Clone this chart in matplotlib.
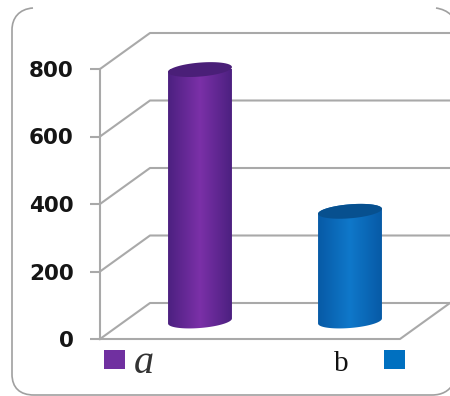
import numpy as np
import matplotlib
matplotlib.use("Agg")
import matplotlib.pyplot as plt
from matplotlib.colors import LinearSegmentedColormap
from matplotlib.patches import PathPatch, Polygon, Rectangle
from matplotlib.path import Path

categories = ["a", "b"]
values = [745, 325]
ticks = [0, 200, 400, 600, 800]

# edge, centre, lid
purple = ["#4c2080", "#7b30a8", "#4a1f78"]
blue = ["#075aa6", "#0f78ca", "#07508f"]
bar_colors = [purple, blue]
legend_colors = ["#7030a0", "#0070c0"]
GRID = "#a9a9a9"

W, H = 450, 396
fig = plt.figure(figsize=(W / 100, H / 100), dpi=100)

# background layer in pixel units for the frame, which has no visible top edge
bg = fig.add_axes([0, 0, 1, 1])
bg.set_xlim(0, W)
bg.set_ylim(H, 0)
bg.axis("off")
frame = Path(
    [(33, 8), (19, 9), (12, 18), (12, 30), (12, 374), (12, 388), (20, 395), (34, 395),
     (432, 395), (442, 395), (449, 391), (453, 384)],
    [Path.MOVETO, Path.CURVE4, Path.CURVE4, Path.CURVE4, Path.LINETO, Path.CURVE4, Path.CURVE4,
     Path.CURVE4, Path.LINETO, Path.CURVE4, Path.CURVE4, Path.CURVE4],
)
bg.add_patch(PathPatch(frame, fc="none", ec="#a0a0a0", lw=1.2))
corner = Path([(436, 8), (442, 9), (447, 11), (451, 15)],
              [Path.MOVETO, Path.CURVE4, Path.CURVE4, Path.CURVE4])
bg.add_patch(PathPatch(corner, fc="none", ec="#a0a0a0", lw=1.2))

# plot box is the front face of the 3d chart
left, right, y0, y800 = 100, 400, 339, 69
ax = fig.add_axes([left / W, 1 - y0 / H, (right - left) / W, (y0 - y800) / H])
ax.patch.set_alpha(0)
for side in ["top", "right", "bottom"]:
    ax.spines[side].set_visible(False)
ax.spines["left"].set_color(GRID)
ax.spines["left"].set_linewidth(1.5)
ax.set_xticks([])
ax.set_yticks(ticks)
ax.tick_params(axis="y", color=GRID, width=1.5, length=7, pad=12)
for lab in ax.get_yticklabels():
    lab.set_fontfamily("DejaVu Sans")
    lab.set_fontsize(15.5)
    lab.set_fontweight("bold")
    lab.set_color("#151515")

# depth of the floor, in data units
dx = 50 / 150
dy = 36 / 270 * ticks[-1]

for t in ticks:
    ax.plot([0, dx, len(categories) + dx], [t, t + dy, t + dy],
            color=GRID, lw=1.5, clip_on=False, zorder=1)
ax.plot([0, len(categories), len(categories) + dx], [0, 0, dy],
        color=GRID, lw=1.5, clip_on=False, zorder=1)


def cylinder(xc, value, colors):
    # cylinders stand half way into the floor
    cx = xc + dx / 2
    base = dy / 2
    top = value + dy / 2
    r = 0.213
    h = 7 / 270 * ticks[-1]
    tilt = 2.5 / 270 * ticks[-1]

    def rim(level, start, stop):
        ts = np.linspace(start, stop, 60)
        return np.column_stack([cx + r * np.cos(ts),
                                level + h * np.sin(ts) + tilt * np.cos(ts)])

    body = np.vstack([rim(base, np.pi, 2 * np.pi), rim(top, 0, np.pi)])
    outline = Polygon(body, closed=True, fc="none", ec="none", clip_on=False)
    ax.add_patch(outline)

    cmap = LinearSegmentedColormap.from_list("side", [colors[0], colors[1], colors[0]])
    shade = np.linspace(0, 1, 128).reshape(1, -1)
    im = ax.imshow(shade, cmap=cmap, aspect="auto", zorder=3,
                   extent=[cx - r, cx + r, 0, ticks[-1] + dy])
    im.set_clip_path(outline)

    ax.add_patch(Polygon(rim(top, 0, 2 * np.pi), closed=True, fc=colors[2], ec="none",
                         zorder=4, clip_on=False))


for i, v in enumerate(values):
    cylinder(i + 0.5, v, bar_colors[i])
ax.set_xlim(0, len(categories))
ax.set_ylim(0, ticks[-1])

# legend sits below the floor
bg.add_patch(Rectangle((104, 350), 21, 19, fc=legend_colors[0], ec="none"))
bg.add_patch(Rectangle((384, 350), 21, 19, fc=legend_colors[1], ec="none"))
bg.text(134, 373, categories[0], family="Liberation Serif", style="italic",
        fontsize=29, color="#333333", va="baseline")
bg.text(334, 371, categories[1], family="Liberation Serif", fontsize=21,
        color="#111111", va="baseline")

fig.savefig("out.png", dpi=100)
plt.close(fig)
